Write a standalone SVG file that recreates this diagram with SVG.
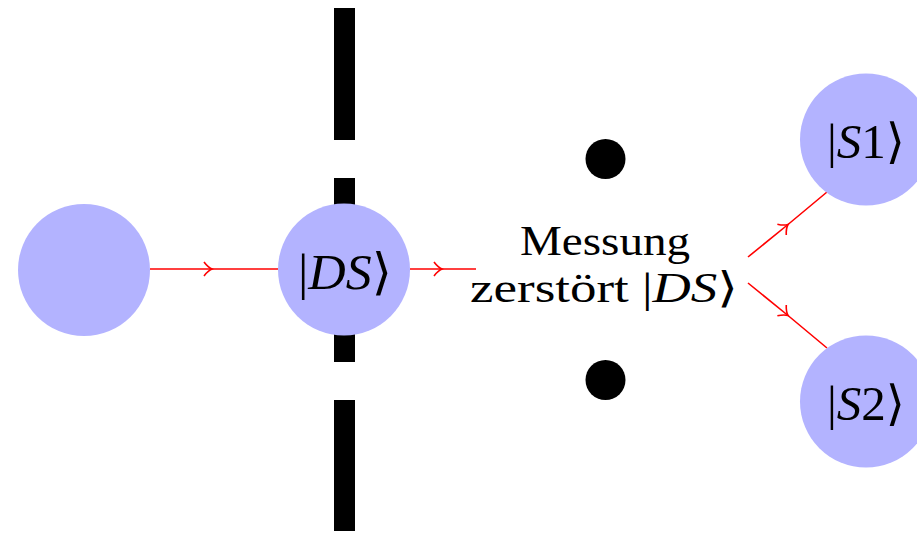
<svg xmlns="http://www.w3.org/2000/svg" width="917" height="534" viewBox="0 0 917 534">
  <style>
    .state { fill: #b3b3ff; }
    .wall { fill: #000; }
    .ray { fill: none; stroke: #ff0000; stroke-width: 1.6; marker-mid: url(#tip); }
    .lbl { font-family: "Liberation Serif", "DejaVu Serif", serif; fill: #000; text-anchor: middle; }
    .it { font-style: italic; }
  </style>
  <defs>
    <marker id="tip" viewBox="-10 -8 12 16" markerWidth="12" markerHeight="16" markerUnits="userSpaceOnUse" refX="0" refY="0" orient="auto">
      <path d="M-8,-7 C-5,-3 -2,-0.8 0,0 C-2,0.8 -5,3 -8,7" fill="none" stroke="#ff0000" stroke-width="1.6"/>
    </marker>
  </defs>

  <!-- double-slit wall -->
  <g id="wall">
    <rect class="wall" x="334" y="8" width="21" height="132"/>
    <rect class="wall" x="334" y="178" width="21" height="184"/>
    <rect class="wall" x="334" y="400" width="21" height="131"/>
  </g>

  <!-- detector dots -->
  <g id="detectors">
    <circle class="wall" cx="605.5" cy="159" r="20"/>
    <circle class="wall" cx="605.5" cy="380" r="20"/>
  </g>

  <!-- connectors -->
  <g id="connectors">
    <polyline class="ray" points="150,269 212,269 278,269"/>
    <polyline class="ray" points="410,269 442,269 476,269"/>
    <polyline class="ray" points="748,257 788,224.5 827,192"/>
    <polyline class="ray" points="748,283 788,315.5 827,348"/>
  </g>

  <g id="source">
    <circle class="state" cx="84" cy="270" r="66"/>
  </g>

  <g id="ds">
    <circle class="state" cx="344" cy="269.5" r="66"/>
    <text class="lbl" x="345" y="289" font-size="50" textLength="94" lengthAdjust="spacingAndGlyphs">|<tspan class="it">DS</tspan>⟩</text>
  </g>

  <g id="measurement">
    <text class="lbl" x="605" y="255" font-size="42" textLength="170" lengthAdjust="spacingAndGlyphs">Messung</text>
    <text class="lbl" x="604" y="302" font-size="42" textLength="268" lengthAdjust="spacingAndGlyphs">zerstört |<tspan class="it">DS</tspan>⟩</text>
  </g>

  <g id="s1">
    <circle class="state" cx="866" cy="139.5" r="66"/>
    <text class="lbl" x="866" y="158" font-size="48" textLength="78" lengthAdjust="spacingAndGlyphs">|<tspan class="it">S</tspan>1⟩</text>
  </g>

  <g id="s2">
    <circle class="state" cx="866" cy="401.5" r="66"/>
    <text class="lbl" x="866" y="420" font-size="48" textLength="78" lengthAdjust="spacingAndGlyphs">|<tspan class="it">S</tspan>2⟩</text>
  </g>
</svg>
